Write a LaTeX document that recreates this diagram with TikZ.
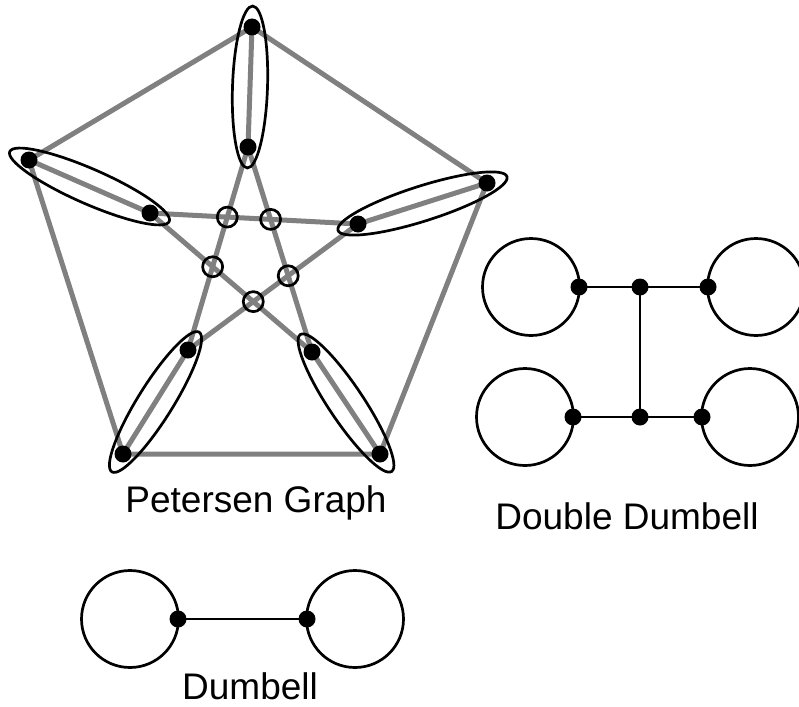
\documentclass[tikz,border=0pt]{standalone}
\usepackage{fontspec}
\setmainfont{Liberation Sans}
\usetikzlibrary{shapes.geometric,calc}
\definecolor{edgegray}{RGB}{128,128,128}
\begin{document}
\begin{tikzpicture}[x=1pt,y=-1pt,
  dot/.style={circle,fill=black,inner sep=0pt,minimum size=17pt},
  ocirc/.style={circle,draw=black,line width=2.7pt,inner sep=0pt,minimum size=20pt},
  gedge/.style={draw=edgegray,line width=5pt},
  bedge/.style={draw=black,line width=2.7pt},
  loopc/.style={draw=black,line width=2.7pt},
  encl/.style={ellipse,draw=black,line width=2.7pt,inner sep=0pt,minimum height=35pt},
  lbl/.style={font=\fontsize{37}{42}\selectfont,inner sep=0pt}]
\useasboundingbox (0,0) rectangle (799,706);
% Petersen vertices
\coordinate (O1) at (252,27);
\coordinate (O2) at (487,183);
\coordinate (O3) at (380,454);
\coordinate (O4) at (123,454);
\coordinate (O5) at (29,160);
\coordinate (I1) at (248,147);
\coordinate (I2) at (358,224);
\coordinate (I3) at (312,352);
\coordinate (I4) at (188,350);
\coordinate (I5) at (150,213);
% edges
\draw[gedge] (O1) -- (O2) -- (O3) -- (O4) -- (O5) -- cycle;
\draw[gedge] (O1) -- (I1);
\draw[gedge] (O2) -- (I2);
\draw[gedge] (O3) -- (I3);
\draw[gedge] (O4) -- (I4);
\draw[gedge] (O5) -- (I5);
\draw[gedge] (I1) -- (I3);
\draw[gedge] (I1) -- (I4);
\draw[gedge] (I5) -- (I2);
\draw[gedge] (I5) -- (I3);
\draw[gedge] (I2) -- (I4);
% crossings
\node[ocirc] (c1) at (intersection of I5--I2 and I1--I4) {};
\node[ocirc] (c2) at (intersection of I5--I2 and I1--I3) {};
\node[ocirc] (c3) at (intersection of I5--I3 and I1--I4) {};
\node[ocirc] (c4) at (intersection of I2--I4 and I1--I3) {};
\node[ocirc] (c5) at (intersection of I5--I3 and I2--I4) {};
% enclosing ellipses
\foreach \a/\b in {O1/I1,O2/I2,O3/I3,O4/I4,O5/I5}{
  \path let \p1=(\a), \p2=(\b),
    \n1={atan2(\y2-\y1,\x2-\x1)},
    \n2={veclen(\x2-\x1,\y2-\y1)} in
    node[encl,minimum width=\n2+42pt,rotate=\n1] at ($(\a)!0.5!(\b)$) {};
}
% dots
\foreach \v in {O1,O2,O3,O4,O5,I1,I2,I3,I4,I5}{
  \node[dot] at (\v) {};
}
\node[lbl] (pl) at (256,503) {Petersen Graph};
% Double dumbell
\node[circle,loopc,minimum size=97pt,inner sep=0pt] (dA) at (531,287) {};
\node[circle,loopc,minimum size=97pt,inner sep=0pt] (dB) at (756,287) {};
\node[circle,loopc,minimum size=97pt,inner sep=0pt] (dC) at (525,417) {};
\node[circle,loopc,minimum size=97pt,inner sep=0pt] (dD) at (750,417) {};
\coordinate (u1) at (579,287);
\coordinate (u2) at (640,287);
\coordinate (u3) at (708,287);
\coordinate (w1) at (573,417);
\coordinate (w2) at (640,417);
\coordinate (w3) at (702,417);
\draw[bedge] (u1) -- (u2) -- (u3);
\draw[bedge] (w1) -- (w2) -- (w3);
\draw[bedge] (u2) -- (w2);
\foreach \v in {u1,u2,u3,w1,w2,w3}{\node[dot] at (\v) {};}
\node[lbl] (dl) at (627,516) {Double Dumbell};
% Dumbell
\node[circle,loopc,minimum size=97pt,inner sep=0pt] (eA) at (130,619) {};
\node[circle,loopc,minimum size=97pt,inner sep=0pt] (eB) at (355,619) {};
\coordinate (e1) at (178,619);
\coordinate (e2) at (307,619);
\draw[bedge] (e1) -- (e2);
\node[dot] at (e1) {};
\node[dot] at (e2) {};
\node[lbl] (el) at (250,686) {Dumbell};
\end{tikzpicture}
\end{document}
